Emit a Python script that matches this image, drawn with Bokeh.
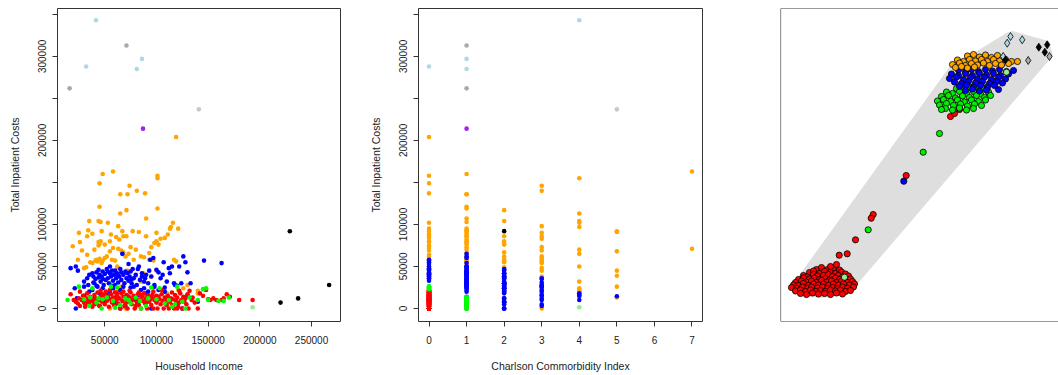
from bokeh.plotting import figure
from bokeh.layouts import row
from bokeh.models import ColumnDataSource, Range1d, FixedTicker, Span
from bokeh.embed import file_html
from bokeh.resources import INLINE

# ---------------- patient data: (household income [k$], total inpatient cost [k$], Charlson index)
orange_pts = [
    (119, 204, 0), (58, 163, 7), (48, 160, 1), (101, 158, 0), (101, 155, 4), (45, 149, 0), (74, 146, 3), (81, 140, 3),
    (89, 137, 0), (65, 136, 1), (72, 136, 1), (45, 121, 1), (101, 119, 1), (71, 117, 2), (65, 113, 4), (90, 107, 1),
    (35, 104, 4), (44, 104, 2), (46, 103, 1), (53, 102, 4), (116, 102, 0), (63, 98, 3), (114, 97, 4), (113, 95, 1),
    (121, 95, 0), (34, 93, 1), (47, 92, 1), (67, 92, 0), (77, 92, 5), (83, 91, 5), (100, 90, 1), (25, 90, 3),
    (38, 89, 0), (111, 88, 1), (56, 88, 0), (68, 86, 3), (71, 86, 1), (90, 86, 0), (61, 85, 1), (33, 86, 2),
    (108, 84, 0), (104, 83, 3), (64, 82, 1), (26, 79, 0), (44, 79, 1), (46, 80, 2), (55, 80, 1), (100, 80, 0),
    (98, 78, 1), (45, 77, 2), (44, 75, 0), (50, 76, 1), (102, 76, 2), (19, 74, 0), (75, 73, 1), (95, 73, 3),
    (58, 72, 0), (63, 71, 7), (40, 70, 4), (80, 70, 1), (66, 69, 3), (28, 69, 0), (68, 67, 2), (93, 66, 1),
    (73, 65, 4), (33, 64, 0), (70, 62, 2), (85, 62, 3), (88, 61, 1), (52, 62, 0), (50, 60, 3), (45, 59, 1),
    (93, 58, 0), (78, 58, 1), (42, 58, 2), (117, 58, 0), (57, 58, 3), (41, 57, 1), (97, 57, 2), (60, 57, 0),
    (48, 57, 1), (119, 56, 3), (55, 68, 5), (24, 58, 0), (43, 56, 1), (36, 55, 2), (38, 54, 3), (47, 54, 1),
    (63, 48, 3), (30, 48, 1), (32, 49, 2), (72, 45, 3), (100, 45, 5), (87, 42, 2), (80, 39, 5), (126, 24, 4),
    (121, 22, 4), (140, 21, 4), (60, 20, 4), (110, 18, 4), (90, 14, 4), (75, 13, 5), (66, 26, 5), (85, 32, 4),
    (95, 38, 3), (130, 28, 3), (140, 18, 3), (55, 0, 3), (70, 0, 2), (62, 50, 4),
]
blue_pts = [
    (17, 48, 0), (22, 50, 1), (24, 45, 0), (21, 24, 2), (23, 12, 2), (22, 0, 2), (28, 10, 3), (30, 32, 1),
    (33, 36, 0), (34, 28, 1), (35, 40, 1), (38, 42, 0), (39, 38, 2), (40, 30, 1), (41, 35, 0), (42, 43, 1),
    (43, 26, 2), (44, 46, 0), (45, 40, 1), (46, 32, 2), (47, 38, 0), (48, 44, 1), (49, 28, 3), (50, 41, 0),
    (51, 34, 1), (52, 47, 0), (53, 36, 2), (54, 30, 1), (55, 42, 0), (56, 38, 1), (57, 45, 2), (58, 33, 0),
    (59, 40, 1), (60, 28, 2), (61, 36, 0), (62, 42, 1), (63, 31, 3), (64, 38, 2), (65, 47, 0), (66, 34, 1),
    (67, 65, 1), (68, 40, 0), (69, 30, 2), (70, 44, 1), (71, 36, 0), (72, 42, 2), (73, 33, 1), (74, 38, 0),
    (75, 44, 1), (76, 30, 2), (78, 36, 1), (80, 40, 0), (81, 28, 2), (83, 50, 0), (84, 34, 1), (86, 42, 2),
    (88, 32, 1), (89, 36, 3), (90, 40, 0), (92, 30, 1), (94, 58, 0), (95, 38, 2), (97, 60, 1), (98, 28, 1),
    (100, 46, 2), (102, 43, 0), (104, 36, 1), (106, 40, 2), (107, 55, 0), (110, 32, 1), (112, 48, 1), (113, 42, 0),
    (115, 50, 1), (117, 30, 2), (120, 27, 3), (122, 50, 1), (124, 30, 2), (126, 62, 1), (128, 55, 0), (130, 43, 1),
    (133, 30, 2), (146, 57, 0), (163, 54, 1), (118, 28, 2), (108, 25, 3), (102, 22, 2), (85, 22, 1), (75, 25, 2),
    (65, 22, 3), (55, 20, 1), (45, 18, 2), (35, 20, 3), (30, 15, 4), (40, 12, 1), (50, 8, 2), (60, 5, 3),
    (70, 3, 1), (80, 10, 4), (90, 18, 4), (100, 8, 2), (110, 12, 3), (120, 5, 1), (130, 15, 3), (140, 8, 2),
    (125, 0, 2), (95, 0, 1), (65, 0, 2), (45, 3, 3), (34, 5, 2), (30, 26, 1), (38, 22, 2), (48, 24, 1),
    (58, 24, 2), (68, 26, 1), (78, 26, 3), (88, 24, 2), (98, 26, 1), (108, 20, 2), (52, 16, 4), (62, 14, 1),
    (72, 14.5, 5), (82, 16, 3), (92, 20, 2), (39, 31, 1), (44, 37, 2), (53, 44, 1), (57, 27, 2), (63, 39, 0),
    (66, 43, 1), (77, 47, 0), (86, 38, 1), (93, 45, 1), (76, 35, 3), (48, 35, 2), (42, 27, 1), (55, 50, 0),
    (60, 45, 1), (73, 53, 0), (82, 47, 2),
]
red_pts = [
    (17, 17, 0), (20, 10, 0), (22, 8, 0), (24, 6, 0), (25, 12, 0), (26, 3, 0), (28, 10, 0), (29, 15, 0),
    (30, 7, 0), (31, 2, 0), (32, 12, 0), (33, 18, 0), (34, 9, 0), (35, 5, 0), (36, 14, 0), (37, 11, 0),
    (38, 2, 0), (39, 8, 0), (40, 16, 0), (41, 12, 0), (42, 6, 0), (43, 19, 0), (44, 10, 0), (45, 3, 0),
    (46, 14, 0), (47, 8, 0), (48, 17, 0), (49, 12, 0), (50, 5, 0), (51, 20, 0), (52, 9, 0), (53, 14, 0),
    (54, 2, 0), (55, 11, 0), (56, 17, 0), (57, 7, 0), (58, 13, 0), (59, 4, 0), (60, 19, 0), (61, 10, 0),
    (62, 15, 0), (63, 6, 0), (64, 12, 0), (65, 0, 0), (66, 18, 0), (67, 9, 0), (68, 14, 0), (69, 3, 0),
    (70, 11, 0), (71, 16, 0), (72, 0, 0), (73, 8, 0), (74, 13, 0), (75, 19, 0), (76, 5, 0), (77, 10, 0),
    (78, 15, 0), (79, 0, 0), (80, 12, 0), (81, 7, 0), (82, 17, 0), (83, 4, 0), (84, 11, 0), (85, 0, 0),
    (86, 14, 0), (87, 9, 0), (88, 18, 0), (89, 6, 0), (90, 12, 0), (91, 0, 0), (92, 15, 0), (93, 8, 0),
    (94, 11, 0), (95, 4, 0), (96, 16, 0), (97, 0, 0), (98, 10, 0), (99, 13, 0), (100, 7, 0), (101, 0, 0),
    (102, 14, 0), (103, 11, 0), (104, 5, 0), (105, 17, 0), (106, 9, 0), (107, 0, 0), (108, 13, 0), (109, 6, 0),
    (110, 10, 0), (111, 15, 0), (112, 0, 0), (113, 8, 0), (114, 12, 0), (115, 4, 0), (116, 11, 0), (117, 0, 0),
    (118, 16, 0), (119, 9, 0), (120, 13, 0), (121, 2, 0), (122, 7, 0), (123, 18, 0), (124, 10, 0), (125, 0, 0),
    (126, 14, 0), (127, 8, 0), (128, 12, 0), (129, 5, 0), (130, 17, 0), (131, 0, 0), (132, 21, 0), (134, 10, 0),
    (135, 13, 0), (137, 7, 0), (140, 0, 0), (142, 18, 0), (145, 15, 0), (148, 22, 0), (150, 11, 0), (152, 10, 0),
    (155, 12, 0), (158, 10, 0), (163, 10, 0), (165, 12, 0), (168, 17, 0), (171, 14, 0), (180, 10, 0), (193, 10, 0),
    (26, 20, 0), (31, 6, 0), (36, 9, 0), (46, 21, 0), (55, 22, 0), (62, 19, 0), (68, 20, 0), (74, 21, 0),
    (83, 19, 0), (97, 20, 0), (105, 22, 0), (115, 19, 0), (122, 21, 0), (60, 13, 0), (70, 6, 0), (80, 3, 0),
    (90, 7, 0), (100, 15, 0), (110, 4, 0), (50, 16, 0), (40, 5, 0), (120, 0, 0), (85, 16, 0), (95, 13, 0),
]
green_pts = [
    (14, 10, 1), (25, 26, 0), (36, 13, 1), (38, 24, 0), (44, 12, 1), (48, 11, 1), (52, 13, 1), (56, 26, 0),
    (58, 9, 1), (62, 25, 0), (65, 4, 1), (70, 12, 1), (75, 6, 1), (80, 13, 1), (84, 9, 1), (90, 3, 1),
    (95, 25, 0), (100, 11, 1), (103, 24, 0), (108, 6, 1), (112, 10, 1), (115, 2, 1), (120, 26, 0), (125, 8, 1),
    (128, 0, 1), (132, 13, 1), (140, 10, 1), (145, 23, 0), (148, 24, 0), (150, 10, 1), (160, 9, 1), (165, 9, 1),
    (170, 13, 1), (47, 0, 1), (85, 0, 1), (60, 1, 1), (35, 3, 1), (30, 11, 1), (42, 7, 1), (73, 10, 1),
    (92, 12, 1), (118, 5, 1),
]
lightgreen_pts = [(193, 1.5, 4)]
black_pts = [(229, 92, 2), (220, 7, 2), (237, 12, 2), (267, 28, 1)]
lightblue_pts = [(41.5, 343, 4), (32, 288, 0), (86, 297, 1), (81, 285, 1)]
gray_pts = [(71, 313, 1), (16, 262, 1)]
lightgray_pts = [(141, 237, 5)]
purple_pts = [(87, 214, 1)]

y_ticks = [0, 50000, 100000, 150000, 200000, 250000, 300000, 350000]
y_tick_labels = {0: "0", 50000: "50000", 100000: "100000", 150000: "", 200000: "200000",
                 250000: "", 300000: "300000", 350000: ""}
income_ticks = [50000, 100000, 150000, 200000, 250000]
cci_ticks = [0, 1, 2, 3, 4, 5, 6, 7]

# ---------------- network layout (layout units)
net_red = [
    (36, 52), (41, 54), (47, 52), (53, 53.5), (56, 57), (59, 51.5), (50, 55),
    (29, 49), (33, 50.5), (39, 48), (44, 50), (50, 49), (55, 48), (61, 49.5), (65, 47.5),
    (23, 46), (27, 44.5), (33, 47), (37, 45.5), (43, 46), (48, 47), (52, 45), (58, 46), (62, 44.5), (68, 45.5),
    (18, 42), (23, 43.5), (29, 42.5), (34, 43.5), (39, 42), (45, 43), (49, 41.5), (55, 43.5), (59, 42), (65, 43), (70, 42.5),
    (15, 39), (21, 40.5), (26, 39.5), (31, 40.5), (36, 39), (41, 41), (46, 39.5), (51, 40.5), (56, 39), (61, 40.5), (67, 39), (72, 40),
    (13, 36.5), (18, 36), (23, 38), (28, 36), (33, 37.5), (38, 36.5), (43, 37.5), (48, 36), (53, 37.5), (58, 36.5), (63, 37.5), (69, 36.5), (74, 37.5),
    (11, 34), (16, 33), (22, 34.5), (27, 33), (31, 34.5), (37, 33.5), (42, 34.5), (47, 33), (52, 34), (57, 33), (62, 34.5), (67, 33.5), (73, 34.5),
    (15, 30.5), (20, 31.5), (25, 30), (30, 31.5), (35, 30), (40, 31), (45, 30), (50, 31.5), (55, 30.5), (60, 31.5), (65, 30), (70, 31),
    (20, 28), (26, 27), (32, 28.5), (38, 27.5), (44, 28), (50, 27), (56, 28.5), (62, 27.5),
    (170, 205), (174, 208), (179, 212), (125.7, 146), (92.7, 107), (90.7, 103.3), (75, 81.7), (66.7, 67.7), (58.7, 66.3),
]
net_green = [
    (176, 233), (182, 231.5), (190, 234), (196, 232), (203, 233.5),
    (166, 229.5), (172, 228), (179, 230), (186, 228), (193, 230), (200, 227.5), (208, 229.5),
    (161, 225), (168, 226), (175, 223.5), (182, 225.5), (189, 224), (196, 226), (204, 224), (210, 226),
    (157, 220.5), (163, 222), (170, 220), (177, 221.5), (184, 219.5), (191, 221.5), (198, 220), (205, 221.5),
    (159, 216.5), (166, 218), (173, 216), (180, 217.5), (187, 215.5), (194, 217.5), (201, 216),
    (165, 213), (172, 211.5), (179, 213.5), (186, 211.5), (193, 213), (161, 212),
    (159, 188), (142.7, 169.3), (87.7, 91.7),
]
net_blue = [
    (178, 251.5), (185, 250), (191, 252), (198, 250), (205, 252), (212, 250.5), (219, 252), (226, 250), (233, 251),
    (171, 247.5), (178, 246), (185, 248), (192, 246), (199, 248), (206, 246.5), (213, 248), (220, 246), (228, 247.5),
    (169, 243), (176, 244.5), (183, 242), (190, 244), (197, 242.5), (204, 244.5), (211, 242), (218, 244), (225, 242.5),
    (174, 239.5), (181, 238), (188, 240), (195, 238.5), (202, 240), (209, 238), (216, 240), (222, 238.5),
    (179, 235), (186, 236.5), (193, 234.5), (200, 236), (207, 234.5), (214, 236), (218, 232),
    (185, 231), (192, 232.5), (199, 230.5), (206, 231.5),
    (123.3, 140.3),
]
net_orange = [
    (187, 265.5), (193, 267), (199, 264.5), (205, 266.5), (211, 264), (217, 266),
    (177, 261.5), (183, 260), (189, 262), (195, 260.5), (201, 262), (207, 260), (213, 262), (219, 260.5), (225, 262), (231, 260),
    (172, 257), (179, 258.5), (185, 256), (191, 258), (197, 256.5), (203, 258.5), (209, 256), (215, 258), (221, 256.5), (228, 258), (237, 260),
    (175, 254), (181, 255), (187, 253.5), (194, 254.5),
]
net_lightgreen = [(64, 44.3), (226, 249.3)]
net_lightblue = [(230, 285), (226.7, 278.3), (241.7, 281.7), (222.7, 265)]
net_black = [(258.3, 274.3), (266.7, 276.7), (264.3, 269.3), (225, 261.7)]
net_gray = [(247.7, 261), (269, 265)]
edge_band_x = [10.7, 171.7, 190, 226, 232, 268, 272, 76, 66, 40, 20, 13]
edge_band_y = [34.3, 257.7, 266, 288, 290, 280, 266, 37, 27, 24, 26, 30]

FONT = "Liberation Sans"
TXT = "#222222"
FRAME = "#333333"


def src(pts):
    return ColumnDataSource(dict(
        income=[p[0] * 1000 for p in pts],
        cost=[p[1] * 1000 for p in pts],
        cci=[p[2] for p in pts],
    ))


groups = [
    (black_pts, "black"), (orange_pts, "orange"), (blue_pts, "blue"), (red_pts, "red"),
    (green_pts, "#00ff00"), (lightgreen_pts, "#90ee90"), (lightblue_pts, "#add8e6"),
    (gray_pts, "#a9a9a9"), (lightgray_pts, "#c8c8c8"), (purple_pts, "#a020f0"),
]


def style(p, xlabel, ylabel, xticks):
    p.xgrid.visible = False
    p.ygrid.visible = False
    p.outline_line_color = FRAME
    p.outline_line_width = 1
    p.background_fill_color = "white"
    p.border_fill_color = "white"
    for ax in (p.xaxis[0], p.yaxis[0]):
        ax.axis_line_color = None
        ax.major_tick_line_color = FRAME
        ax.major_tick_out = 5
        ax.major_tick_in = 0
        ax.minor_tick_line_color = None
        ax.major_label_text_font = FONT
        ax.major_label_text_font_size = "10px"
        ax.major_label_text_color = TXT
        ax.axis_label_text_font = FONT
        ax.axis_label_text_font_size = "10.5px"
        ax.axis_label_text_font_style = "normal"
        ax.axis_label_text_color = TXT
    p.xaxis[0].major_label_standoff = 9
    p.yaxis[0].major_label_standoff = 6
    p.xaxis[0].axis_label = xlabel
    p.yaxis[0].axis_label = ylabel
    p.xaxis[0].axis_label_standoff = 13
    p.yaxis[0].axis_label_standoff = 15
    p.xaxis[0].ticker = FixedTicker(ticks=xticks)
    p.yaxis[0].ticker = FixedTicker(ticks=y_ticks)
    p.yaxis[0].major_label_overrides = y_tick_labels
    p.yaxis[0].major_label_orientation = "vertical"
    p.xaxis[0].formatter.use_scientific = False


p1 = figure(width=353, height=375, x_range=Range1d(4300, 278000), y_range=Range1d(-15500, 357000),
            output_backend="svg", toolbar_location=None,
            min_border_left=57, min_border_right=13, min_border_top=8, min_border_bottom=54)
p2 = figure(width=353, height=375, x_range=Range1d(-0.28, 7.28), y_range=Range1d(-15500, 357000),
            output_backend="svg", toolbar_location=None,
            min_border_left=65, min_border_right=4, min_border_top=8, min_border_bottom=54)
for pts, col in groups:
    s = src(pts)
    p1.scatter("income", "cost", source=s, size=4.6, fill_color=col, line_color=None)
    p2.scatter("cci", "cost", source=s, size=4.6, fill_color=col, line_color=None)
style(p1, "Household Income", "Total Inpatient Costs", income_ticks)
style(p2, "Charlson Commorbidity Index", "Total Inpatient Costs", cci_ticks)
p1.yaxis[0].formatter.use_scientific = False
p2.yaxis[0].formatter.use_scientific = False

# ---------------- network panel
p3 = figure(width=352, height=375, x_range=Range1d(0, 278), y_range=Range1d(0, 313),
            x_axis_type=None, y_axis_type=None, output_backend="svg", toolbar_location=None,
            min_border_left=74, min_border_right=0, min_border_top=8, min_border_bottom=54)
p3.xgrid.visible = False
p3.ygrid.visible = False
p3.outline_line_color = None
p3.background_fill_color = "white"
p3.border_fill_color = "white"
p3.patch(edge_band_x, edge_band_y, fill_color="#dedede", line_color="#dedede", line_width=1)


def nodes(pts, col, marker="circle", size=6.2):
    p3.scatter([p[0] for p in pts], [p[1] for p in pts], marker=marker, size=size,
               fill_color=col, line_color="black", line_width=0.8)


nodes(net_red, "red")
nodes(net_green, "#00ee00")
nodes(net_blue, "blue")
nodes(net_orange, "orange")
nodes(net_lightgreen, "#90ee90")
nodes(net_lightblue, "#add8e6", "diamond", 8)
nodes(net_black, "black", "diamond", 8)
nodes(net_gray, "#a9a9a9", "diamond", 8)

for loc, dim in ((0, "height"), (0, "width"), (313, "width")):
    p3.add_layout(Span(location=loc, dimension=dim, line_color=FRAME, line_width=1.2))

layout = row(p1, p2, p3)
open("out.html", "w").write(file_html(layout, INLINE))
